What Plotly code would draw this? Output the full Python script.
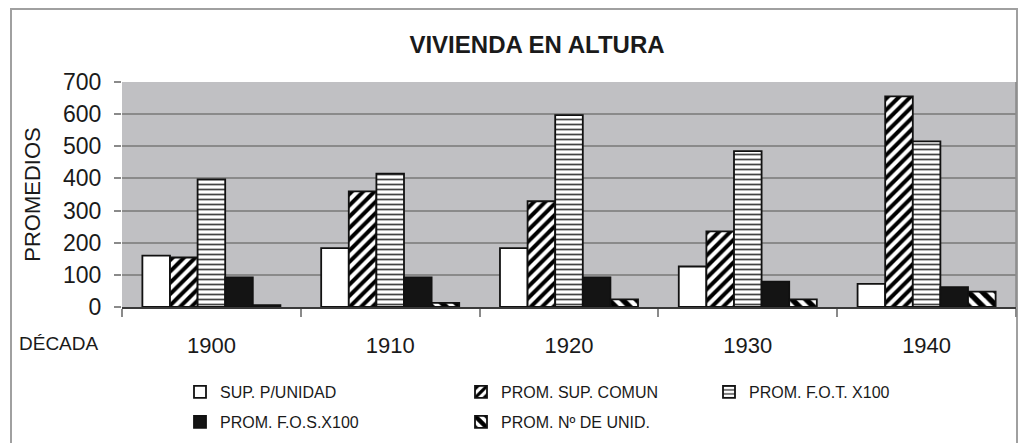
import plotly.graph_objects as go

# Decades on the category axis
decadas = ["1900", "1910", "1920", "1930", "1940"]

# Averages per decade for each indicator
sup_p_unidad = [160, 183, 183, 126, 72]
prom_sup_comun = [154, 360, 329, 235, 655]
prom_fot_x100 = [397, 415, 597, 485, 515]
prom_fos_x100 = [92, 92, 92, 79, 62]
prom_n_unid = [6, 13, 24, 24, 48]

y_ticks = [0, 100, 200, 300, 400, 500, 600, 700]

FONT = "Arial, 'Liberation Sans', Helvetica, sans-serif"
INK = "#1a1a1a"
W, H = 1019, 443
# plot-area pixel box
L, R, T, B = 122, 1016, 82, 307


def px_x(p):
    return (p - L) / (R - L)


def px_y(p):
    return (B - p) / (B - T)


series = [
    ("SUP. P/UNIDAD", sup_p_unidad,
     dict(color="white"), "legend"),
    ("PROM. SUP. COMUN", prom_sup_comun,
     dict(color="white", pattern=dict(shape="/", fgcolor="#000000", bgcolor="white",
                                      fgopacity=1, size=8, solidity=0.5)), "legend2"),
    ("PROM. F.O.T. X100", prom_fot_x100,
     dict(color="white", pattern=dict(shape="-", fgcolor="#444444", bgcolor="white",
                                      fgopacity=1, size=5, solidity=0.35)), "legend3"),
    ("PROM. F.O.S.X100", prom_fos_x100,
     dict(color="#141414"), "legend4"),
    ("PROM. Nº DE UNID.", prom_n_unid,
     dict(color="white", pattern=dict(shape="\\", fgcolor="#000000", bgcolor="white",
                                      fgopacity=1, size=10, solidity=0.55)), "legend5"),
]

fig = go.Figure()
for name, vals, marker, leg in series:
    marker = dict(marker)
    marker["line"] = dict(color="#111111", width=1.8)
    fig.add_trace(go.Bar(x=decadas, y=vals, name=name, marker=marker, legend=leg,
                         showlegend=True))


def legend_box(xpix, ypix):
    return dict(xref="paper", yref="paper", x=px_x(xpix), y=px_y(ypix),
                xanchor="left", yanchor="middle", bgcolor="rgba(0,0,0,0)",
                font=dict(family=FONT, size=16, color=INK), itemwidth=30,
                visible=True)


fig.update_layout(
    width=W, height=H,
    margin=dict(l=L, r=W - R, t=T, b=H - B, autoexpand=False),
    showlegend=True,
    paper_bgcolor="white",
    plot_bgcolor="#c0c0c3",
    barmode="group",
    bargap=0.228,
    bargroupgap=0,
    font=dict(family=FONT, color=INK),
    title=dict(text="<b>VIVIENDA EN ALTURA</b>", x=537 / W, xanchor="center",
               y=1 - 45 / H, yanchor="middle", font=dict(size=24, color=INK)),
    legend=legend_box(180, 392),
    legend2=legend_box(461, 392),
    legend3=legend_box(709, 392),
    legend4=legend_box(180, 422),
    legend5=legend_box(461, 422),
    xaxis=dict(
        type="category", tickson="boundaries", ticks="outside", ticklen=8,
        tickcolor="#8a8a8a", tickwidth=1.5, showline=True, linecolor="#3a3a3a",
        linewidth=1.5, showgrid=False, tickfont=dict(size=22, color=INK),
        ticklabelstandoff=18,
    ),
    yaxis=dict(
        range=[0, 700], tickvals=y_ticks, ticks="outside", ticklen=7,
        tickcolor="#8a8a8a", tickwidth=1.5, showgrid=True, gridcolor="#8a8a8a",
        gridwidth=1.5, zeroline=False, showline=False,
        tickfont=dict(size=23, color=INK), ticklabelstandoff=8,
        title=dict(text="PROMEDIOS", font=dict(size=22, color=INK), standoff=16),
    ),
    shapes=[
        # outer chart frame
        dict(type="rect", xref="paper", yref="paper", x0=px_x(11), x1=px_x(1017),
             y0=px_y(452), y1=px_y(9), line=dict(color="#a0a0a0", width=2),
             fillcolor="rgba(0,0,0,0)", layer="below"),
        # right edge of the plot area
        dict(type="line", xref="paper", yref="paper", x0=1, x1=1, y0=0, y1=1,
             line=dict(color="#8a8a8a", width=1.5)),
    ],
    annotations=[
        dict(text="DÉCADA", xref="paper", yref="paper", x=px_x(17), y=px_y(343),
             xanchor="left", yanchor="middle", showarrow=False,
             font=dict(size=19, color=INK, family=FONT)),
    ],
)

fig.write_html("out.html")
